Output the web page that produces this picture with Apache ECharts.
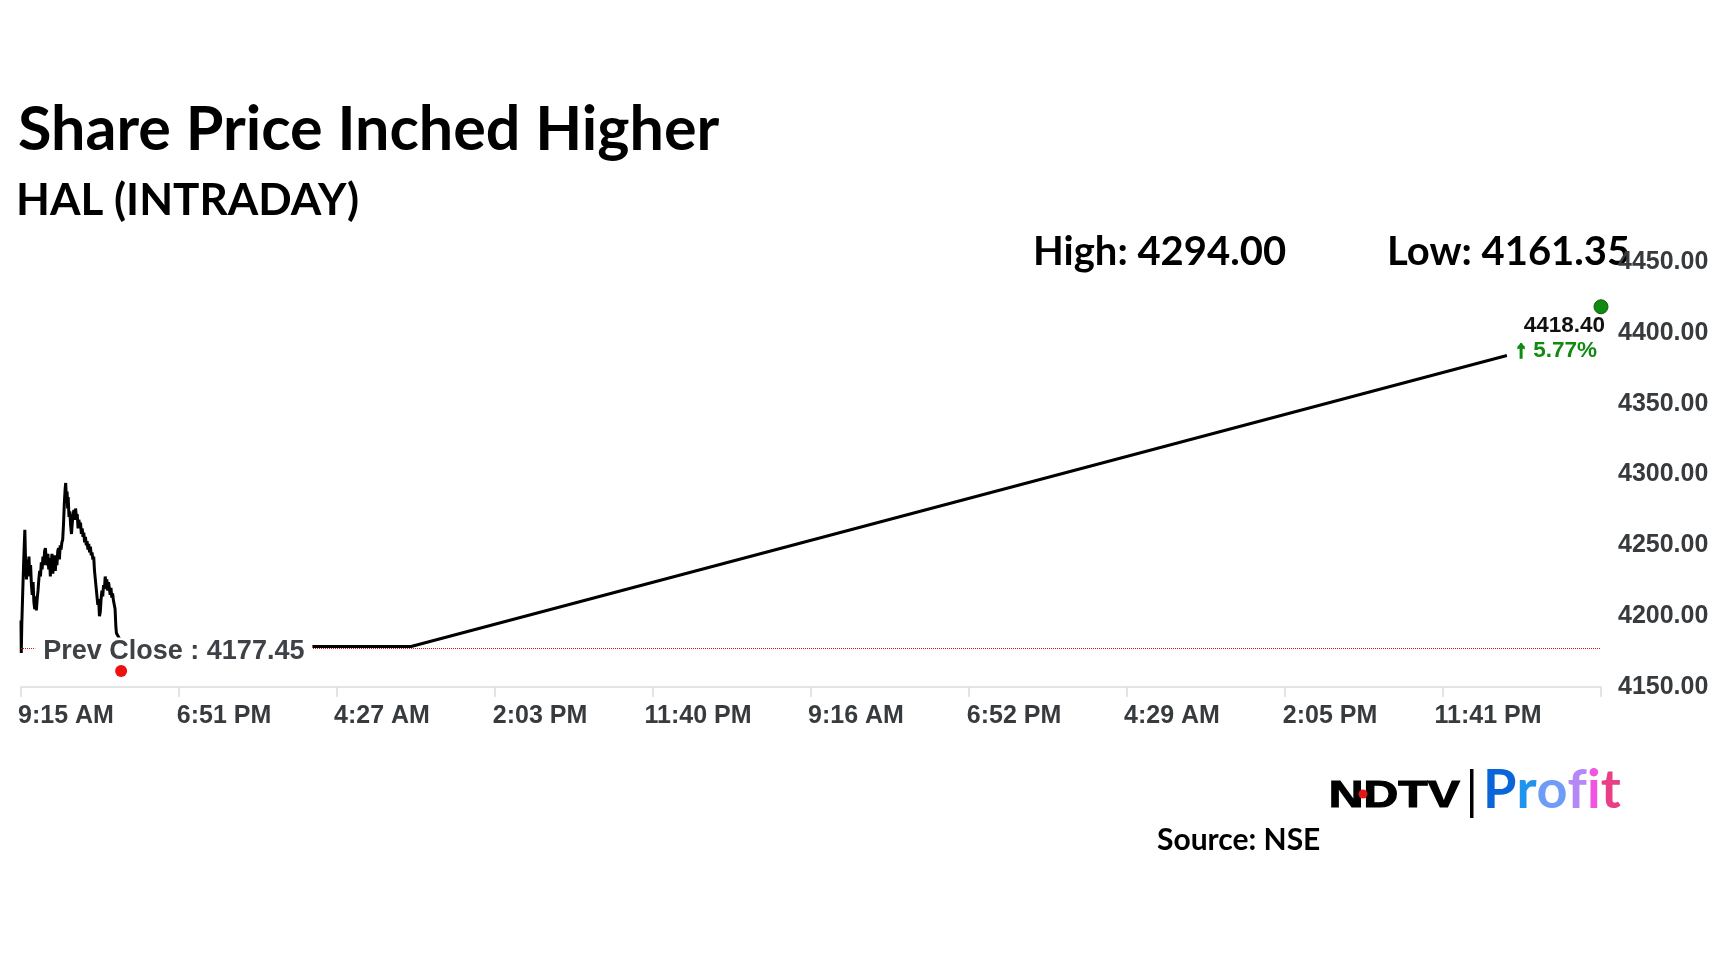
<!DOCTYPE html>
<html><head><meta charset="utf-8">
<script src="https://cdn.jsdelivr.net/npm/echarts@6/dist/echarts.min.js"></script>
<style>html,body{margin:0;padding:0;background:#fff}#c{width:1728px;height:972px}</style>
</head><body><div id="c"></div>
<script>
// ---- data ----
const xTickLabels = ['9:15 AM','6:51 PM','4:27 AM','2:03 PM','11:40 PM','9:16 AM','6:52 PM','4:29 AM','2:05 PM','11:41 PM'];
const xStepMinutes = 576;          // minutes between x ticks (from 9:15 AM)
const xMaxMinutes = 5760;
const yTicks = [4150, 4200, 4250, 4300, 4350, 4400, 4450];

// minutes since 9:15 AM (day 1)
const priceMinutes = [0,1,3,6,10,14,17,20,23,26,29,32,35,38,41,44,47,50,53,56,59,62,65,68,71,74,77,80,83,86,89,92,95,98,101,104,107,110,113,116,119,122,125,128,131,134,137,140,143,146,149,152,155,158,161,163,166,168,170,172,175,178,181,184,187,190,193,196,199,202,205,208,211,214,217,220,223,226,229,232,235,238,241,244,247,250,253,256,259,262,265,268,271,274,277,280,283,286,289,292,295,298,301,304,307,310,313,316,319,322,325,328,331,334,337,340,343,346,348,375,1422,5417];
const priceValues = [4197,4174,4195,4215,4240,4261,4236,4226,4240,4232,4242,4228,4236,4222,4215,4224,4210,4205,4214,4204,4212,4218,4226,4232,4228,4238,4233,4242,4236,4246,4248,4240,4236,4244,4233,4241,4228,4238,4244,4230,4237,4243,4232,4240,4236,4246,4248,4240,4250,4247,4252,4254,4265,4280,4290,4294,4280,4288,4276,4284,4270,4274,4264,4258,4266,4272,4275,4268,4276,4270,4272,4262,4268,4264,4266,4258,4262,4256,4259,4252,4256,4250,4253,4247,4251,4245,4249,4243,4245,4240,4242,4232,4226,4220,4214,4208,4212,4200,4203,4212,4218,4214,4222,4219,4228,4222,4226,4218,4224,4220,4215,4220,4213,4216,4211,4212,4205,4192,4188,4178.6,4178.6,4384];

const prevClose = 4177.45;
const dayHigh = 4294.00;
const dayLow = 4161.35;
const lowMinute = 365;
const lastPrice = 4418.40;
const lastChangePct = 5.77;
const prevCloseLabelMinute = 52;

// ---- chart ----
const chart = echarts.init(document.getElementById('c'), null, {renderer: 'canvas'});
const axisFont = '"Liberation Sans", Arial, sans-serif';
const titleFont = 'Lato, "Open Sans", sans-serif';

const seriesData = priceMinutes.map((m, i) => [m, priceValues[i]]);

const profitLetters = ['P', 'r', 'o', 'f', 'i', 't'];
const profitColors = ['#0a66d6', '#1f94ec', '#6f9cf6', '#b488f6', '#f055e2', '#e83f86'];
const profitRich = {};
profitLetters.forEach((ch, i) => {
  profitRich['p' + i] = {fill: profitColors[i], font: 'bold 54px ' + titleFont};
});
const profitText = profitLetters.map((ch, i) => '{p' + i + '|' + ch + '}').join('');

chart.setOption({
  animation: false,
  backgroundColor: '#ffffff',
  grid: {left: 21, right: 127, top: 262, bottom: 285, containLabel: false, outerBoundsMode: 'none'},
  xAxis: {
    type: 'value', min: 0, max: xMaxMinutes, interval: xStepMinutes,
    axisLine: {show: true, lineStyle: {color: '#dcdcdc', width: 1.5}},
    axisTick: {show: true, length: 10, lineStyle: {color: '#dcdcdc', width: 1.5}},
    splitLine: {show: false},
    axisLabel: {
      margin: 17, align: 'center', padding: [0, 0, 0, 90], color: '#383b3e', fontSize: 25, fontWeight: 'bold', fontFamily: axisFont,
      showMaxLabel: true,
      formatter: v => xTickLabels[Math.round(v / xStepMinutes)] || ''
    }
  },
  yAxis: {
    type: 'value', position: 'right', min: yTicks[0], max: yTicks[yTicks.length - 1], interval: yTicks[1] - yTicks[0],
    axisLine: {show: false}, axisTick: {show: false}, splitLine: {show: false},
    axisLabel: {margin: 17, color: '#383b3e', fontSize: 25, fontWeight: 'bold', fontFamily: axisFont,
      formatter: v => v.toFixed(2)}
  },
  series: [{
    type: 'line', data: seriesData, showSymbol: false, symbol: 'none', z: 2,
    lineStyle: {color: '#000000', width: 3},
    markLine: {
      z: 5, silent: true, symbol: ['none', 'none'],
      lineStyle: {color: '#e01010', type: 'dotted', width: 1},
      label: {show: false},
      data: [{yAxis: prevClose}]
    },
    markPoint: {
      z: 6, silent: true,
      data: [
        {coord: [prevCloseLabelMinute, prevClose], symbol: 'circle', symbolSize: 0,
          label: {show: true, position: 'right', distance: 0, offset: [0, 3], formatter: 'Prev Close : ' + prevClose.toFixed(2),
            color: '#3e4145', fontSize: 27, fontWeight: 'bold', fontFamily: axisFont, lineHeight: 24,
            backgroundColor: '#ffffff', padding: [3, 8, 0, 8]}},
        {coord: [xMaxMinutes, lastPrice], symbol: 'circle', symbolSize: 14,
          itemStyle: {color: '#128a12', borderColor: '#0a5e0a', borderWidth: 1},
          label: {show: true, position: 'bottom', distance: -1, align: 'right', offset: [4, 0],
            formatter: '{a|' + lastPrice.toFixed(2) + '}\n{c|\u2191}{b| ' + lastChangePct.toFixed(2) + '%}',
            rich: {
              a: {color: '#111111', fontSize: 22.5, fontWeight: 'bold', fontFamily: axisFont, lineHeight: 25, align: 'right'},
              c: {color: '#128a12', fontSize: 23, fontWeight: 'bold', fontFamily: axisFont, lineHeight: 25, align: 'right',
                textBorderColor: '#128a12', textBorderWidth: 2},
              b: {color: '#128a12', fontSize: 22.5, fontWeight: 'bold', fontFamily: axisFont, lineHeight: 25, align: 'right', padding: [0, 8, 0, 0]}
            }}}
      ]
    }
  }, {
    type: 'scatter', z: 10, silent: true, symbol: 'circle', symbolSize: 12,
    itemStyle: {color: '#ee0f0f', opacity: 1},
    data: [[lowMinute, dayLow]]
  }],
  graphic: [
    {type: 'text', left: 18, top: 100, style: {text: 'Share Price Inched Higher', fill: '#000', font: 'bold 61px ' + titleFont}},
    {type: 'text', left: 16, top: 179, style: {text: 'HAL (INTRADAY)', fill: '#000', font: 'bold 44px ' + titleFont}},
    {type: 'text', left: 1033, top: 232, style: {text: 'High: ' + dayHigh.toFixed(2), fill: '#000', font: 'bold 40px ' + titleFont}},
    {type: 'text', left: 1387, top: 232, style: {text: 'Low: ' + dayLow.toFixed(2), fill: '#000', font: 'bold 40px ' + titleFont}},
    {type: 'text', left: 1157, top: 825, style: {text: 'Source: NSE', fill: '#000', font: 'bold 30px ' + titleFont}},
    {type: 'text', left: 1328, top: 778, scaleX: 1.3, style: {text: 'NDTV', fill: '#000', stroke: '#000', lineWidth: 1.2, font: 'bold 37px "Liberation Sans", Arial, sans-serif'}},
    {type: 'circle', shape: {cx: 1363, cy: 794, r: 4.5}, style: {fill: '#e01818'}},
    {type: 'rect', shape: {x: 1470, y: 769, width: 3.5, height: 49}, style: {fill: '#000'}},
    {type: 'text', left: 1483, top: 764, style: {text: profitText, rich: profitRich, font: 'bold 54px ' + titleFont}}
  ]
});
</script>
</body></html>
